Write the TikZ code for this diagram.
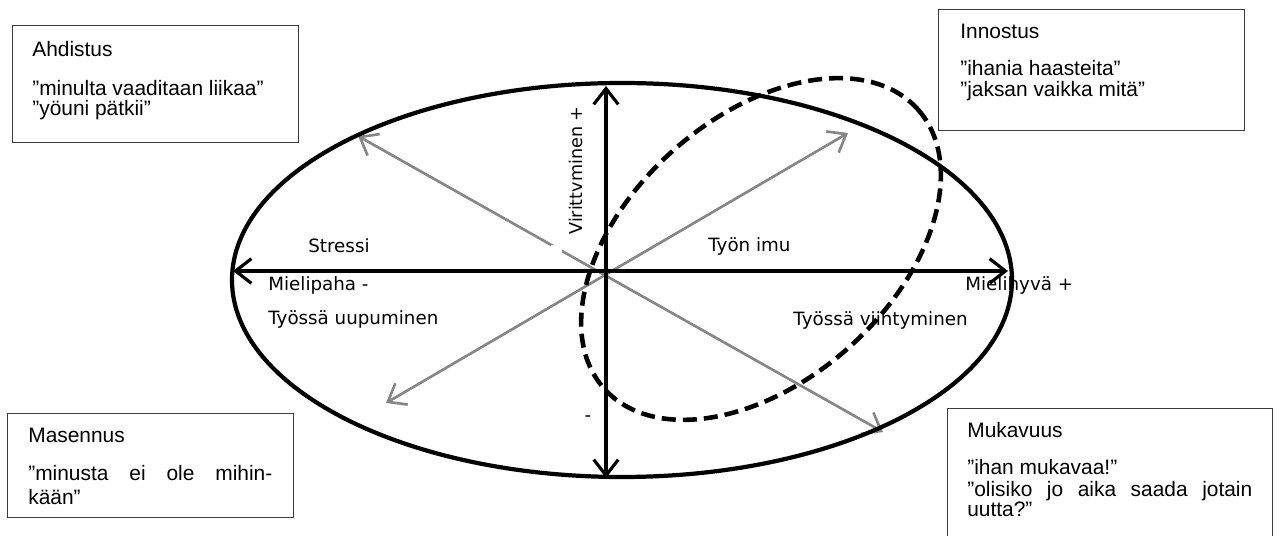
\documentclass[tikz,border=0pt]{standalone}
\usepackage{fontspec}
\setmainfont{Liberation Sans}
\newfontfamily\labelfont{DejaVu Sans}
\usetikzlibrary{arrows.meta}
\definecolor{diaggray}{RGB}{134,134,134}
\definecolor{boxline}{RGB}{60,60,60}

\tikzset{
  box/.style={draw=boxline, line width=0.6pt, fill=white, inner sep=0pt,
    anchor=north west, rectangle},
  boxtext/.style={anchor=base west, inner sep=0pt,
    font=\fontsize{11.9}{13.5}\selectfont},
  axislabel/.style={anchor=base west, inner sep=0pt,
    font=\labelfont\fontsize{10.4}{12}\selectfont},
  barb/.tip={Straight Barb[length=9pt,width=14pt]},
  axisline/.style={line width=1.8pt, barb-barb},
  diagline/.style={line width=1.5pt, draw=diaggray, barb-barb},
  zone/.style={line width=2.4pt},
  workzone/.style={line width=2.6pt, dash pattern=on 8pt off 4pt},
}

\begin{document}
\begin{tikzpicture}[x=0.02cm, y=-0.02cm]
\useasboundingbox (0,0) rectangle (1279,536);
\clip (0,0) rectangle (1279,536);

% ends of the axes and of the diagonals
\coordinate (west)  at (233,271);
\coordinate (east)  at (1008,271);
\coordinate (north) at (606,86);
\coordinate (south) at (606,478);
\coordinate (nw) at (358,136);
\coordinate (se) at (883,432);
\coordinate (sw) at (386,403);
\coordinate (ne) at (848,133);

% diagonals
\draw[diagline] (sw) -- (ne);
\draw[diagline] (nw) -- (se);
\fill[white] (551,245) rectangle (562,258);

% axes
\draw[axisline] (west) -- (east);
\draw[axisline] (south) -- (north);

% axis labels
\node[axislabel] (stressi) at (308,253) {Stressi};
\node[axislabel] (mielipaha) at (268,291) {Mielipaha -};
\node[axislabel] (uupuminen) at (268,325) {Työssä uupuminen};
\node[axislabel] (imu) at (708,252) {Työn imu};
\node[axislabel] (mielihyva) at (965,291) {Mielihyvä +};
\node[axislabel, anchor=base east] (viihtyminen) at (968,326) {Työssä viihtyminen};
\node[axislabel, rotate=90, font=\labelfont\fontsize{10}{12}\selectfont]
  (viritys) at (582,235) {Virittvminen +};
\node[axislabel, anchor=center] (miinus) at (588,419) {-};

% outer ellipse
\draw[zone] (622,280) ellipse [x radius=390, y radius=197];

% work engagement area
\begin{scope}[shift={(761,249)}, rotate=41.6]
  \draw[workzone] (0,0) ellipse [x radius=210, y radius=132];
\end{scope}

% corner boxes
\node[box, minimum width=5.72cm, minimum height=2.34cm] (ahdistus) at (12,25) {};
\node[boxtext] (ahdT) at (32,57) {Ahdistus};
\node[boxtext] (ahd1) at (32,96) {”minulta vaaditaan liikaa”};
\node[boxtext] (ahd2) at (32,116) {”yöuni pätkii”};

\node[box, minimum width=6.12cm, minimum height=2.42cm] (innostus) at (938,9) {};
\node[boxtext] (innT) at (960,39) {Innostus};
\node[boxtext] (inn1) at (960,76) {”ihania haasteita”};
\node[boxtext] (inn2) at (960,97) {”jaksan vaikka mitä”};

\node[box, minimum width=5.72cm, minimum height=2.08cm] (masennus) at (7,413) {};
\node[boxtext] (masT) at (28,443) {Masennus};
\node[boxtext] (mas1) at (28,481) {\makebox[4.88cm][s]{”minusta ei ole mihin-}};
\node[boxtext] (mas2) at (28,505) {kään”};

\node[box, minimum width=6.5cm, minimum height=2.8cm] (mukavuus) at (947,408) {};
\node[boxtext] (mukT) at (967,438) {Mukavuus};
\node[boxtext] (muk1) at (967,475) {”ihan mukavaa!”};
\node[boxtext] (muk2) at (967,497) {\makebox[5.7cm][s]{”olisiko jo aika saada jotain}};
\node[boxtext] (muk3) at (967,517) {uutta?”};
\end{tikzpicture}
\end{document}
